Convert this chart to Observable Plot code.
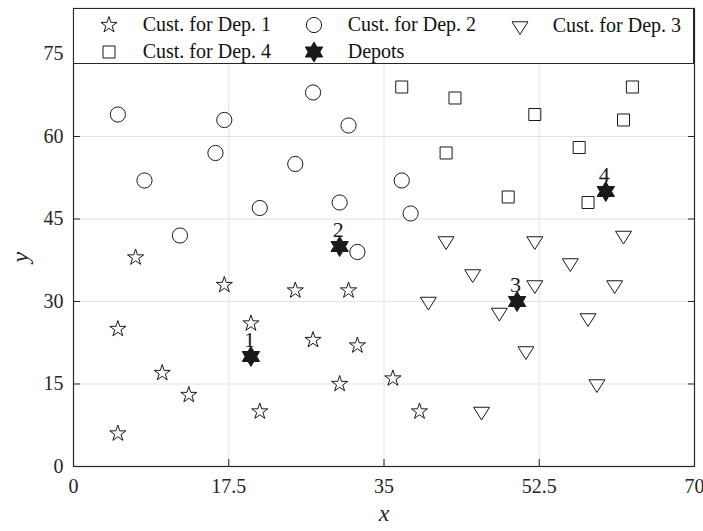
<!DOCTYPE html>
<html><head><meta charset="utf-8">
<script src="https://cdn.jsdelivr.net/npm/d3@7"></script>
<script src="https://cdn.jsdelivr.net/npm/@observablehq/plot@0.6"></script>
<style>
body{margin:0;background:#fff;}
#wrap{position:relative;width:703px;height:531px;font-family:"Liberation Serif","Times New Roman",serif;}
#legend{position:absolute;left:73px;top:8px;width:621px;height:56px;background:#fff;border:1px solid #262626;box-sizing:border-box;}
#legend span{position:absolute;font-size:20px;line-height:20px;color:#111;white-space:nowrap;}
#legend svg{position:absolute;overflow:visible;}
</style></head><body><div id="wrap"></div>
<script>
// ---- data ----
const dep1X = [5, 5, 7, 10, 13, 17, 20, 25, 31, 27, 32, 30, 21, 36, 39];
const dep1Y = [6, 25, 38, 17, 13, 33, 26, 32, 32, 23, 22, 15, 10, 16, 10];
const dep2X = [5, 17, 27, 31, 16, 25, 8, 21, 30, 12, 32, 37, 38];
const dep2Y = [64, 63, 68, 62, 57, 55, 52, 47, 48, 42, 39, 52, 46];
const dep3X = [42, 52, 62, 56, 45, 52, 61, 40, 48, 58, 51, 59, 46];
const dep3Y = [41, 41, 42, 37, 35, 33, 33, 30, 28, 27, 21, 15, 10];
const dep4X = [37, 43, 52, 63, 62, 42, 57, 49, 58];
const dep4Y = [69, 67, 64, 69, 63, 57, 58, 49, 48];
const depotX = [20, 30, 50, 60];
const depotY = [20, 40, 30, 50];
const depotLabels = ["1", "2", "3", "4"];
const xTicks = [0, 17.5, 35, 52.5, 70];
const yTicks = [0, 15, 30, 45, 60, 75];
const legendLabels = ["Cust. for Dep. 1", "Cust. for Dep. 2", "Cust. for Dep. 3", "Cust. for Dep. 4", "Depots"];

// ---- symbols ----
const rad = s => Math.sqrt(s / Math.PI);
const pentagram = {draw(ctx, size){const R = rad(size), r = R * 0.382;
  for (let i = 0; i < 10; i++){const a = -Math.PI/2 + i*Math.PI/5, rr = i % 2 ? r : R;
    const x = rr*Math.cos(a), y = rr*Math.sin(a); i ? ctx.lineTo(x, y) : ctx.moveTo(x, y);} ctx.closePath();}};
const circle = {draw(ctx, size){const R = rad(size); ctx.moveTo(R, 0); ctx.arc(0, 0, R, 0, 2*Math.PI); ctx.closePath();}};
const square = {draw(ctx, size){const R = rad(size); ctx.moveTo(-R, -R); ctx.lineTo(R, -R); ctx.lineTo(R, R); ctx.lineTo(-R, R); ctx.closePath();}};
const triDown = {draw(ctx, size){const R = rad(size), h = R*1.59; ctx.moveTo(-R, -h/3); ctx.lineTo(R, -h/3); ctx.lineTo(0, 2*h/3); ctx.closePath();}};
const hexagram = {draw(ctx, size){const R = rad(size), r = R/Math.sqrt(3);
  for (let i = 0; i < 12; i++){const a = -Math.PI/2 + i*Math.PI/6, rr = i % 2 ? r : R;
    const x = rr*Math.cos(a), y = rr*Math.sin(a); i ? ctx.lineTo(x, y) : ctx.moveTo(x, y);} ctx.closePath();}};

const pts = (X, Y) => X.map((x, i) => ({x, y: Y[i]}));
const d1 = pts(dep1X, dep1Y), d2 = pts(dep2X, dep2Y), d3s = pts(dep3X, dep3Y), d4 = pts(dep4X, dep4Y);
const depots = depotX.map((x, i) => ({x, y: depotY[i], label: depotLabels[i]}));

const ink = "#1a1a1a";
const styles = [
  {symbol: pentagram, r: 8.5, fill: "none"},
  {symbol: circle, r: 7.6, fill: "none"},
  {symbol: triDown, r: 8, fill: "none"},
  {symbol: square, r: 6, fill: "none"},
  {symbol: hexagram, r: 10, fill: ink}
];

const chart = Plot.plot({
  width: 703, height: 531,
  marginLeft: 73, marginRight: 9, marginTop: 8, marginBottom: 65,
  style: {fontFamily: "Liberation Serif, serif", fontSize: "20px", color: "#262626", background: "#fff"},
  x: {domain: [0, 70]},
  y: {domain: [0, 83.27]},
  marks: [
    Plot.gridX(xTicks.slice(1, -1), {stroke: "#e2e2e2", strokeOpacity: 1}),
    Plot.gridY(yTicks.slice(1), {stroke: "#e2e2e2", strokeOpacity: 1}),
    Plot.axisX({ticks: xTicks, tickSize: -7, tickPadding: 19, fontSize: 20, label: null, tickFormat: d => String(d)}),
    Plot.axisY({ticks: yTicks, tickSize: -7, tickPadding: 17, fontSize: 20, label: null, tickFormat: d => String(d)}),
    Plot.axisY({anchor: "right", ticks: yTicks, tickSize: -7, tickFormat: () => "", label: null}),
    Plot.frame({stroke: "#262626", strokeWidth: 1.2}),
    Plot.dot(d1, {x: "x", y: "y", symbol: pentagram, r: 8.5, stroke: ink, strokeWidth: 1, fill: "none"}),
    Plot.dot(d2, {x: "x", y: "y", symbol: circle, r: 7.6, stroke: ink, strokeWidth: 1, fill: "none"}),
    Plot.dot(d3s, {x: "x", y: "y", symbol: triDown, r: 8, stroke: ink, strokeWidth: 1, fill: "none"}),
    Plot.dot(d4, {x: "x", y: "y", symbol: square, r: 6, stroke: ink, strokeWidth: 1, fill: "none"}),
    Plot.dot(depots, {x: "x", y: "y", symbol: hexagram, r: 10, stroke: ink, strokeWidth: 1, fill: ink}),
    Plot.text(depots, {x: "x", y: "y", text: "label", dx: -1.5, dy: -16.5, fontSize: 22, fill: ink}),
    Plot.text(["x"], {frameAnchor: "bottom", dy: 54, fontSize: 24, fontStyle: "italic", fill: "#262626"}),
    Plot.text(["y"], {frameAnchor: "left", dx: -53, dy: 25, rotate: -90, fontSize: 24, fontStyle: "italic", fill: "#262626"})
  ]
});

const wrap = document.getElementById("wrap");
wrap.appendChild(chart);

// ---- legend ----
function pathString(symbol, size) {
  const c = {s: "",
    moveTo(x, y){this.s += `M${x.toFixed(2)},${y.toFixed(2)}`;},
    lineTo(x, y){this.s += `L${x.toFixed(2)},${y.toFixed(2)}`;},
    arc(cx, cy, r){this.s += `M${(cx+r).toFixed(2)},${cy}A${r},${r},0,1,1,${(cx-r).toFixed(2)},${cy}A${r},${r},0,1,1,${(cx+r).toFixed(2)},${cy}`;},
    closePath(){this.s += "Z";}};
  symbol.draw(c, size);
  return c.s;
}
const NS = "http://www.w3.org/2000/svg";
const legend = document.createElement("div");
legend.id = "legend";
wrap.appendChild(legend);
const slots = [
  {sx: 34.7, sy: 16, tx: 68.7}, {sx: 240.3, sy: 16, tx: 273.7}, {sx: 446, sy: 17, tx: 478.7},
  {sx: 34.7, sy: 42.5, tx: 68.7}, {sx: 240.3, sy: 42.5, tx: 273.7}
];
legendLabels.forEach((lab, i) => {
  const st = styles[i], sl = slots[i];
  const svg = document.createElementNS(NS, "svg");
  svg.setAttribute("width", "1"); svg.setAttribute("height", "1");
  svg.style.left = sl.sx + "px"; svg.style.top = sl.sy + "px";
  const p = document.createElementNS(NS, "path");
  p.setAttribute("d", pathString(st.symbol, Math.PI*st.r*st.r));
  p.setAttribute("fill", st.fill); p.setAttribute("stroke", ink); p.setAttribute("stroke-width", "1");
  svg.appendChild(p);
  legend.appendChild(svg);
  const sp = document.createElement("span");
  sp.textContent = lab;
  sp.style.left = sl.tx + "px";
  sp.style.top = (sl.sy - 11) + "px";
  legend.appendChild(sp);
});
</script>
</body></html>
